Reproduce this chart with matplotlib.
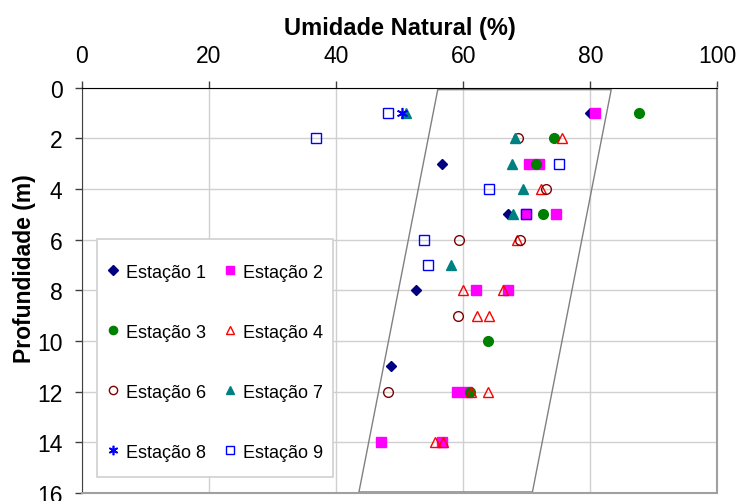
import matplotlib
matplotlib.use("Agg")
import matplotlib.pyplot as plt
from matplotlib.patches import Rectangle

plt.rcParams['font.family'] = ['Liberation Sans', 'DejaVu Sans']

# Umidade natural (%) x profundidade (m) por estacao
est1_x = [80.0, 56.7, 67.1, 52.6, 48.6]
est1_z = [1, 3, 5, 8, 11]
est2_x = [80.8, 70.3, 71.9, 69.9, 74.6, 62.0, 67.1, 59.0, 60.6, 47.0, 56.6]
est2_z = [1, 3, 3, 5, 5, 8, 8, 12, 12, 14, 14]
est3_x = [87.7, 74.3, 71.4, 72.6, 63.9, 61.0]
est3_z = [1, 2, 3, 5, 10, 12]
est4_x = [75.6, 72.2, 68.5, 60.0, 66.2, 62.2, 64.0, 61.3, 63.9, 55.6, 56.8]
est4_z = [2, 4, 6, 8, 8, 9, 9, 12, 12, 14, 14]
est6_x = [68.7, 73.1, 59.3, 68.9, 59.2, 48.1]
est6_z = [2, 4, 6, 6, 9, 12]
est7_x = [51.0, 68.2, 67.7, 69.4, 67.8, 58.1]
est7_z = [1, 2, 3, 4, 5, 7]
est8_x = [50.4]
est8_z = [1]
est9_x = [48.1, 36.8, 75.1, 64.0, 69.9, 53.8, 54.5]
est9_z = [1, 2, 3, 4, 5, 6, 7]

# faixa (paralelogramo)
faixa_x = [56.0, 83.3, 70.9, 43.6, 56.0]
faixa_z = [0.07, 0.07, 15.96, 15.96, 0.07]

fig = plt.figure(figsize=(7.38, 5.02), dpi=100)
ax = fig.add_axes([0.111, 0.016, 0.861, 0.807])

ax.plot(faixa_x, faixa_z, color='#808080', lw=1.0, zorder=2)

ms = 7
h = {}
h[1], = ax.plot(est1_x, est1_z, 'D', color='#000080', ms=5.5, ls='none', label='Estação 1', zorder=3)
h[2], = ax.plot(est2_x, est2_z, 's', color='#ff00ff', ms=ms, ls='none', label='Estação 2', zorder=3)
h[3], = ax.plot(est3_x, est3_z, 'o', color='#008000', ms=ms, ls='none', label='Estação 3', zorder=3)
h[4], = ax.plot(est4_x, est4_z, '^', mfc='none', mec='#ff0000', ms=ms, ls='none', label='Estação 4', zorder=3)
h[6], = ax.plot(est6_x, est6_z, 'o', mfc='none', mec='#800000', ms=ms, ls='none', label='Estação 6', zorder=3)
h[7], = ax.plot(est7_x, est7_z, '^', color='#008080', ms=ms, ls='none', label='Estação 7', zorder=3)
h[8], = ax.plot(est8_x, est8_z, marker=(6, 2, 0), color='#0000ff', ms=ms + 1, mew=1.2, ls='none',
                label='Estação 8', zorder=3)
h[9], = ax.plot(est9_x, est9_z, 's', mfc='none', mec='#0000ff', ms=ms, ls='none', label='Estação 9', zorder=3)

ax.set_xlim(0, 100)
ax.set_ylim(16, 0)
ax.set_xticks(range(0, 101, 20))
ax.set_yticks(range(0, 17, 2))
ax.xaxis.tick_top()
ax.xaxis.set_label_position('top')
ax.tick_params(axis='both', labelsize=16.5, length=5, width=1, direction='out', color='#404040')
ax.tick_params(axis='x', pad=10)
ax.tick_params(axis='y', pad=9)
ax.set_xlabel('Umidade Natural (%)', fontsize=17, fontweight='bold', labelpad=7.5)
ax.set_ylabel('Profundidade (m)', fontsize=16.5, fontweight='bold')
ax.yaxis.set_label_coords(-0.073, 0.556)

ax.grid(True, color='#d0d0d0', lw=1, zorder=0)
ax.set_axisbelow(True)
ax.spines['top'].set_color('#000000')
ax.spines['left'].set_color('#404040')
ax.spines['right'].set_color('#a0a0a0')
ax.spines['bottom'].set_color('#a0a0a0')
ax.spines['right'].set_linewidth(1.5)
ax.spines['bottom'].set_linewidth(1.5)

# caixa da legenda
ax.add_patch(Rectangle((0.0236, 0.0395), 0.371, 0.588, transform=ax.transAxes,
                       facecolor='white', edgecolor='#d0d0d0', lw=1.2, zorder=4))

# ordem por linhas: 1 2 / 3 4 / 6 7 / 8 9
order = [1, 3, 6, 8, 2, 4, 7, 9]
leg = ax.legend([h[k] for k in order], [h[k].get_label() for k in order],
                loc='upper left', bbox_to_anchor=(0.0362, 0.566), borderaxespad=0,
                ncol=2, fontsize=13, frameon=False,
                labelspacing=2.38, columnspacing=0.9, handletextpad=0.25,
                handlelength=0.9, borderpad=0, markerscale=0.85)
leg.set_zorder(5)

fig.savefig('out.png', dpi=100)
